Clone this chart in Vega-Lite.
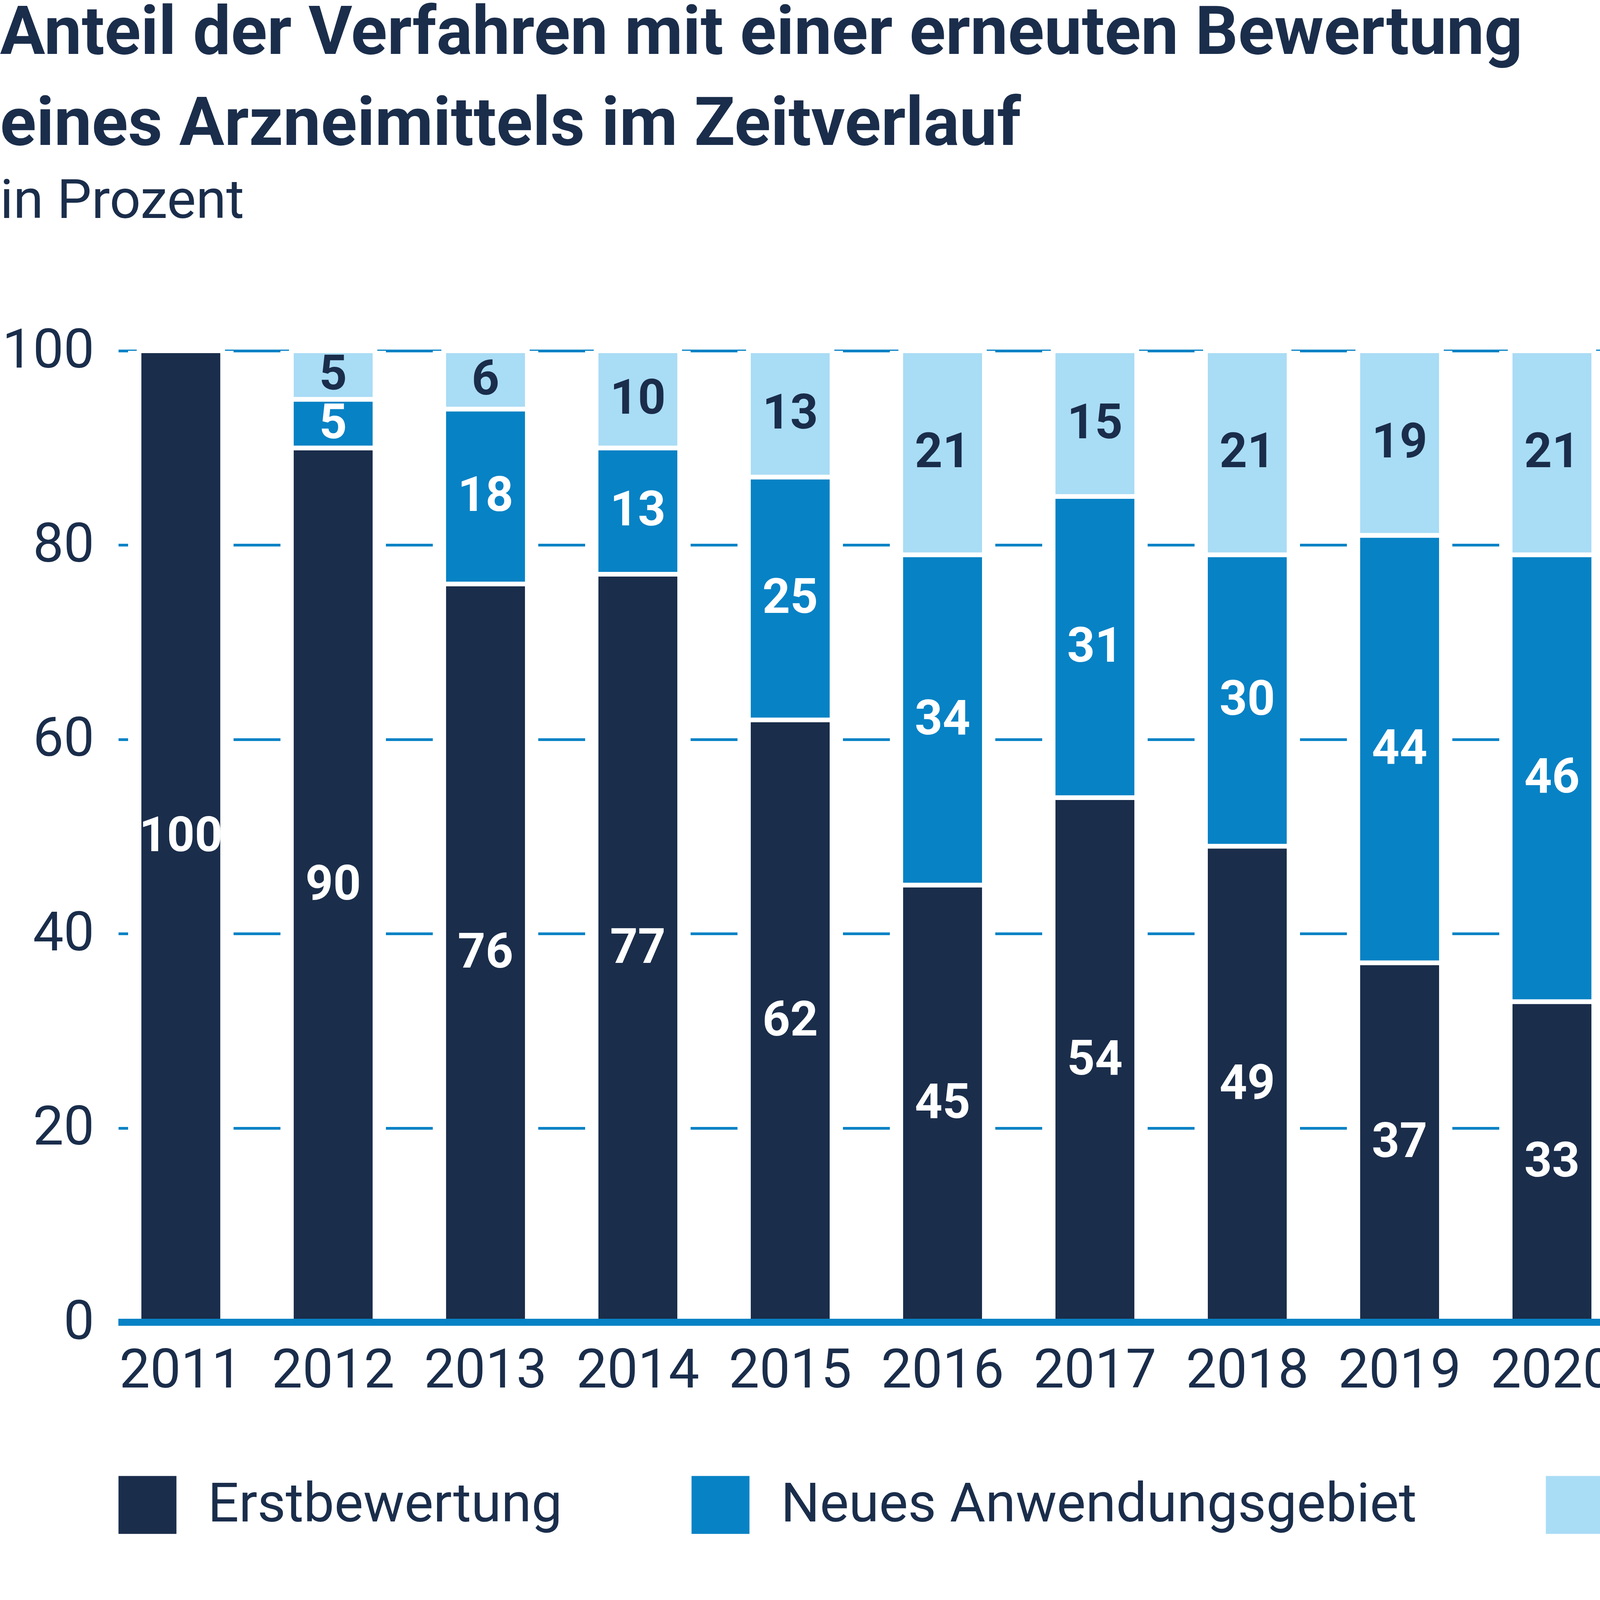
{
"$schema":"https://vega.github.io/schema/vega-lite/v6.json",
"width":5780,"height":2487,
"padding":{"left":0,"top":0,"right":0,"bottom":0},
"background":"white",
"config":{"font":"Roboto","view":{"stroke":null}},
"title":{"text":["Anteil der Verfahren mit einer erneuten Bewertung","eines Arzneimittels im Zeitverlauf"],"subtitle":"in Prozent","anchor":"start","frame":"bounds","fontSize":172,"lineHeight":233,"fontWeight":"bold","color":"#1a2d4b","subtitleFontSize":140,"subtitleColor":"#1a2d4b","subtitlePadding":40,"offset":240,"limit":0},
"data":{"values":[
{"jahr":"2011","kat":"Erstbewertung","ord":1,"wert":100},
{"jahr":"2012","kat":"Erstbewertung","ord":1,"wert":90},{"jahr":"2012","kat":"Neues Anwendungsgebiet","ord":2,"wert":5},{"jahr":"2012","kat":"Neubewertungen","ord":3,"wert":5},
{"jahr":"2013","kat":"Erstbewertung","ord":1,"wert":76},{"jahr":"2013","kat":"Neues Anwendungsgebiet","ord":2,"wert":18},{"jahr":"2013","kat":"Neubewertungen","ord":3,"wert":6},
{"jahr":"2014","kat":"Erstbewertung","ord":1,"wert":77},{"jahr":"2014","kat":"Neues Anwendungsgebiet","ord":2,"wert":13},{"jahr":"2014","kat":"Neubewertungen","ord":3,"wert":10},
{"jahr":"2015","kat":"Erstbewertung","ord":1,"wert":62},{"jahr":"2015","kat":"Neues Anwendungsgebiet","ord":2,"wert":25},{"jahr":"2015","kat":"Neubewertungen","ord":3,"wert":13},
{"jahr":"2016","kat":"Erstbewertung","ord":1,"wert":45},{"jahr":"2016","kat":"Neues Anwendungsgebiet","ord":2,"wert":34},{"jahr":"2016","kat":"Neubewertungen","ord":3,"wert":21},
{"jahr":"2017","kat":"Erstbewertung","ord":1,"wert":54},{"jahr":"2017","kat":"Neues Anwendungsgebiet","ord":2,"wert":31},{"jahr":"2017","kat":"Neubewertungen","ord":3,"wert":15},
{"jahr":"2018","kat":"Erstbewertung","ord":1,"wert":49},{"jahr":"2018","kat":"Neues Anwendungsgebiet","ord":2,"wert":30},{"jahr":"2018","kat":"Neubewertungen","ord":3,"wert":21},
{"jahr":"2019","kat":"Erstbewertung","ord":1,"wert":37},{"jahr":"2019","kat":"Neues Anwendungsgebiet","ord":2,"wert":44},{"jahr":"2019","kat":"Neubewertungen","ord":3,"wert":19},
{"jahr":"2020","kat":"Erstbewertung","ord":1,"wert":33},{"jahr":"2020","kat":"Neues Anwendungsgebiet","ord":2,"wert":46},{"jahr":"2020","kat":"Neubewertungen","ord":3,"wert":21},
{"jahr":"2021","kat":"Erstbewertung","ord":1,"wert":42},{"jahr":"2021","kat":"Neues Anwendungsgebiet","ord":2,"wert":42},{"jahr":"2021","kat":"Neubewertungen","ord":3,"wert":16},
{"jahr":"2022","kat":"Erstbewertung","ord":1,"wert":44},{"jahr":"2022","kat":"Neues Anwendungsgebiet","ord":2,"wert":46},{"jahr":"2022","kat":"Neubewertungen","ord":3,"wert":10},
{"jahr":"2023","kat":"Erstbewertung","ord":1,"wert":26},{"jahr":"2023","kat":"Neues Anwendungsgebiet","ord":2,"wert":53},{"jahr":"2023","kat":"Neubewertungen","ord":3,"wert":21},
{"jahr":"2024","kat":"Erstbewertung","ord":1,"wert":44},{"jahr":"2024","kat":"Neues Anwendungsgebiet","ord":2,"wert":46},{"jahr":"2024","kat":"Neubewertungen","ord":3,"wert":10},
{"jahr":"2025","kat":"Erstbewertung","ord":1,"wert":42},{"jahr":"2025","kat":"Neues Anwendungsgebiet","ord":2,"wert":49},{"jahr":"2025","kat":"Neubewertungen","ord":3,"wert":9}
]},
"transform":[
{"stack":"wert","groupby":["jahr"],"sort":[{"field":"ord","order":"ascending"}],"as":["y0","y1"]},
{"calculate":"(datum.y0+datum.y1)/2","as":"mid"}
],
"encoding":{
"x":{"field":"jahr","type":"ordinal","scale":{"paddingInner":0.46,"paddingOuter":0.14},
 "axis":{"labelAngle":0,"ticks":false,"domain":false,"labelFontSize":140,"labelColor":"#1a2d4b","labelPadding":55,"labelLimit":0,
  "title":["Quelle: vfa nach AMNOG-Datenbank Pharm-Analytics GmbH, abgeschlossene Verfahren im Zeitraum 2011 bis 2025,","sortiert nach Beginn des Verfahrens"],
  "titleFontSize":108,"titleFontWeight":"normal","titleColor":"#1a2d4b","titleAnchor":"start","titleAlign":"left","titleX":-303,"titlePadding":590,"titleLineHeight":148,"titleLimit":0}}
},
"layer":[
{"mark":{"type":"bar","color":"white","size":270},
 "encoding":{"y":{"field":"y1","type":"quantitative","aggregate":"max","scale":{"domain":[0,100]},
  "axis":{"values":[0,20,40,60,80,100],"ticks":false,"domain":false,"labelFontSize":140,"labelColor":"#1a2d4b","labelPadding":62,"labelLimit":0,"gridColor":"#0782c5","gridWidth":7,"title":null}},
  "y2":{"datum":0}}},
{"mark":{"type":"bar","stroke":"white","strokeWidth":12,"size":214},
 "encoding":{"y":{"field":"y0","type":"quantitative"},"y2":{"field":"y1"},
  "color":{"field":"kat","type":"nominal","scale":{"domain":["Erstbewertung","Neues Anwendungsgebiet","Neubewertungen"],"range":["#1a2d4b","#0782c5","#a9dcf5"]},
   "legend":{"orient":"none","legendX":0,"legendY":2880,"direction":"horizontal","title":null,"symbolType":"square","symbolSize":22000,"symbolStrokeWidth":0,"labelFontSize":140,"labelColor":"#1a2d4b","labelOffset":80,"labelLimit":0,"columnPadding":330}}}},
{"mark":{"type":"rule","color":"#0782c5","strokeWidth":18},"encoding":{"x":null,"y":{"datum":0}}},
{"mark":{"type":"text","fontSize":124,"fontWeight":"bold","baseline":"middle"},
 "encoding":{"y":{"field":"mid","type":"quantitative"},"text":{"field":"wert","type":"quantitative"},
  "color":{"condition":{"test":"datum.kat==='Neubewertungen'","value":"#1a2d4b"},"value":"white"}}}
]
}
